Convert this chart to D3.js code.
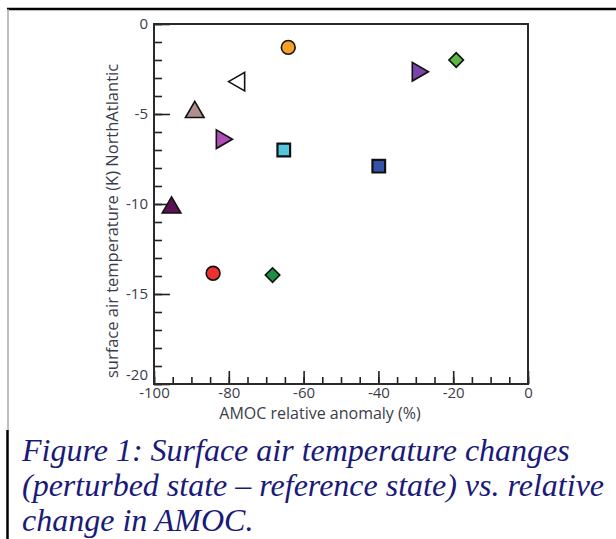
<!DOCTYPE html>
<html>
<head>
<meta charset="utf-8">
<script src="https://cdn.jsdelivr.net/npm/d3@7"></script>
<style>
  body { margin: 0; background: #fff; }
  svg { display: block; }
</style>
</head>
<body>
<div id="chart"></div>
<script>
const W = 616, H = 539;
const margin = { top: 24, right: 88, bottom: 155, left: 154 };
const width = W - margin.left - margin.right;
const height = H - margin.top - margin.bottom;

// AMOC relative anomaly (%) and surface air temperature change (K)
const amoc  = [-64.1, -19.2, -29.5, -77.2, -89.1, -81.9, -65.3, -39.9, -95.3, -84.2, -68.3];
const temp  = [-1.3, -2.0, -2.65, -3.2, -4.9, -6.4, -7.0, -7.9, -10.2, -13.85, -13.95];
const shapes = ['circle', 'diamond', 'right', 'left', 'up', 'right', 'square', 'square', 'up', 'circle', 'diamond'];
const fills  = ['#f5a02c', '#5cb844', '#7a44aa', '#ffffff', '#b08e8e', '#b04cb4', '#52c6dc', '#3452a8', '#5c1250', '#ee3030', '#1c9040'];

const xMajorTicks = [-100, -80, -60, -40, -20, 0];
const yMajorTicks = [0, -5, -10, -15, -20];
const xLabel = 'AMOC relative anomaly (%)';
const yLabel = 'surface air temperature (K) NorthAtlantic';
const caption = [
    'Figure 1: Surface air temperature changes',
    '(perturbed state \u2013 reference state) vs. relative',
    'change in AMOC.'
];

const svg = d3.select('#chart').append('svg')
    .attr('width', W)
    .attr('height', H);

// page frame lines
svg.append('line').attr('x1', 7).attr('x2', W).attr('y1', 9).attr('y2', 9)
    .attr('stroke', '#000').attr('stroke-width', 2.5);
svg.append('line').attr('x1', 8).attr('x2', 8).attr('y1', 9).attr('y2', 430)
    .attr('stroke', '#aaa').attr('stroke-width', 1.5);
svg.append('line').attr('x1', 7.5).attr('x2', 7.5).attr('y1', 430).attr('y2', H)
    .attr('stroke', '#000').attr('stroke-width', 2.5);

const g = svg.append('g')
    .attr('transform', `translate(${margin.left},${margin.top})`);

const x = d3.scaleLinear().domain([-100, 0]).range([0, width]);
const y = d3.scaleLinear().domain([-20, 0]).range([height, 0]);

const fmt = (d) => String(d).replace('\u2212', '-');
const tickColor = '#222';
const labelColor = '#3a3d48';
const axisFont = '"Open Sans", sans-serif';
const axisSize = '15px';

// minor ticks (inward)
g.append('g').attr('class', 'y-minor')
    .call(d3.axisRight(y).ticks(20).tickSize(8).tickFormat(''));
g.append('g').attr('class', 'y-major')
    .call(d3.axisRight(y).tickValues(yMajorTicks).tickSize(16).tickFormat(''));
g.append('g').attr('class', 'x-minor')
    .attr('transform', `translate(0,${height})`)
    .call(d3.axisTop(x).ticks(20).tickSize(7).tickFormat(''));
g.append('g').attr('class', 'x-major')
    .attr('transform', `translate(0,${height})`)
    .call(d3.axisTop(x).tickValues(xMajorTicks).tickSize(13).tickFormat(''));

g.selectAll('.y-minor, .y-major, .x-minor, .x-major').select('.domain').remove();
g.selectAll('.tick line').attr('stroke', tickColor).attr('stroke-width', 1.6);

// tick labels
const yLab = g.append('g')
    .call(d3.axisLeft(y).tickValues(yMajorTicks).tickSize(0).tickPadding(6).tickFormat(fmt));
yLab.select('.domain').remove();
yLab.selectAll('text')
    .attr('fill', labelColor)
    .style('font-family', axisFont)
    .style('font-size', axisSize)
    .attr('dy', (d) => d === -20 ? '-0.3em' : '0.32em');

const xLab = g.append('g')
    .attr('transform', `translate(0,${height})`)
    .call(d3.axisBottom(x).tickValues(xMajorTicks).tickSize(0).tickPadding(3).tickFormat(fmt));
xLab.select('.domain').remove();
xLab.selectAll('text')
    .attr('fill', labelColor)
    .style('font-family', axisFont)
    .style('font-size', axisSize);

// plot box
g.append('rect')
    .attr('x', 0).attr('y', 0)
    .attr('width', width).attr('height', height)
    .attr('fill', 'none')
    .attr('stroke', '#2a2a2a')
    .attr('stroke-width', 2);

// axis titles
g.append('text')
    .attr('x', x(-50) - 21)
    .attr('y', height + 35)
    .attr('text-anchor', 'middle')
    .attr('fill', labelColor)
    .style('font-family', axisFont)
    .style('font-size', '16px')
    .text(xLabel);

g.append('text')
    .attr('transform', `translate(${-36},${height / 2 + 17}) rotate(-90)`)
    .attr('text-anchor', 'middle')
    .attr('fill', labelColor)
    .style('font-family', axisFont)
    .style('font-size', '16.5px')
    .text(yLabel);

// markers
const symbolFor = (s) => {
    if (s === 'circle') return d3.symbol(d3.symbolCircle, 150)();
    if (s === 'square') return d3.symbol(d3.symbolSquare, 160)();
    if (s === 'diamond') return d3.symbol(d3.symbolSquare, 105)();
    return d3.symbol(d3.symbolTriangle, 150)();
};
const rotFor = { right: 90, left: -90, up: 0, diamond: 45 };

g.selectAll('path.pt')
    .data(amoc.map((a, i) => ({ a, t: temp[i], s: shapes[i], c: fills[i] })))
    .enter()
    .append('path')
    .attr('class', 'pt')
    .attr('d', (d) => symbolFor(d.s))
    .attr('transform', (d) => `translate(${x(d.a)},${y(d.t)}) rotate(${rotFor[d.s] || 0})`)
    .attr('fill', (d) => d.c)
    .attr('stroke', '#111')
    .attr('stroke-width', (d) => d.s === 'square' ? 2.2 : 1.6)
    .attr('stroke-linejoin', 'miter');

// caption (last line sits at the bottom edge, as in the scan)
svg.append('g').selectAll('text')
    .data(caption)
    .enter()
    .append('text')
    .attr('x', 22)
    .attr('y', (d, i) => 461 + i * 35)
    .attr('fill', '#1a1a78')
    .style('font-family', '"Liberation Serif", "Times New Roman", serif')
    .style('font-style', 'italic')
    .style('font-size', '32px')
    .text((d) => d);
</script>
</body>
</html>
